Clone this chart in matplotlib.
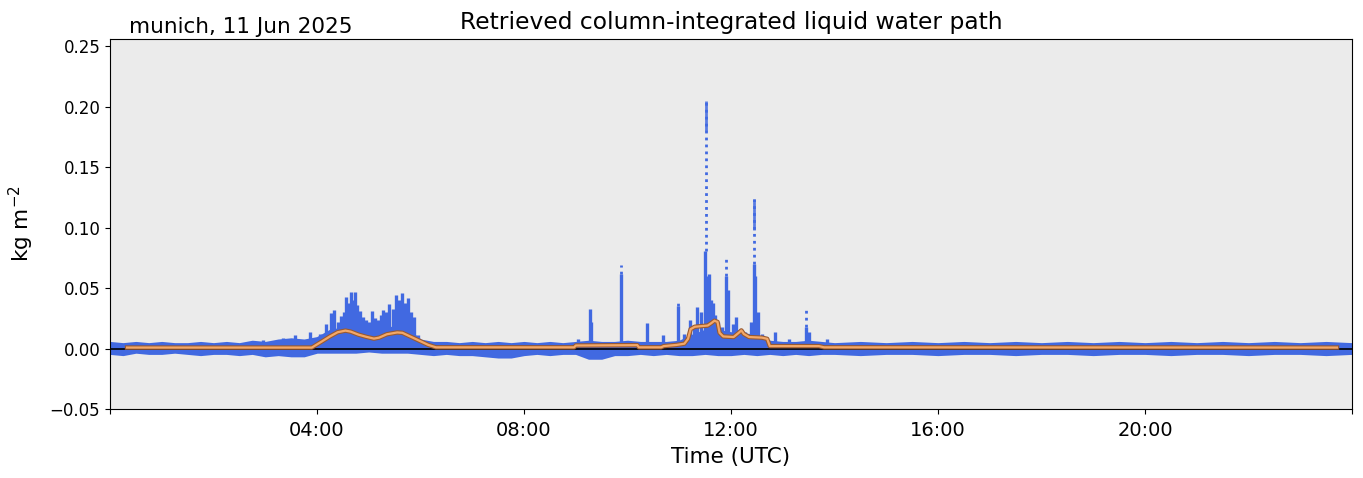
import matplotlib
matplotlib.use('Agg')
import matplotlib.pyplot as plt
import matplotlib.patheffects as pe

# time in hours UTC
band_t = [0.0, 0.25, 0.5, 0.75, 1.0, 1.25, 1.5, 1.75, 2.0, 2.25, 2.5, 2.75, 3.0, 3.25,
          3.5, 3.75, 4.0, 4.25, 4.5, 4.75, 5.0, 5.25, 5.5, 5.75, 6.0, 6.25, 6.5, 6.75,
          7.0, 7.25, 7.5, 7.75, 8.0, 8.25, 8.5, 8.75, 9.0, 9.25, 9.5, 9.75, 10.0, 10.25,
          10.5, 10.75, 11.0, 11.25, 11.5, 11.75, 12.0, 12.25, 12.5, 12.75, 13.0, 13.25,
          13.5, 13.75, 14.0, 14.5, 15.0, 15.5, 16.0, 16.5, 17.0, 17.5, 18.0, 18.5, 19.0,
          19.5, 20.0, 20.5, 21.0, 21.5, 22.0, 22.5, 23.0, 23.5, 24.0]
band_hi = [0.005, 0.004, 0.005, 0.004, 0.005, 0.004, 0.004, 0.005, 0.004, 0.005, 0.004,
           0.006, 0.005, 0.007, 0.008, 0.007, 0.009, 0.015, 0.017, 0.018, 0.014, 0.016,
           0.018, 0.016, 0.007, 0.005, 0.005, 0.004, 0.005, 0.004, 0.005, 0.004, 0.005,
           0.004, 0.005, 0.004, 0.005, 0.006, 0.005, 0.005, 0.006, 0.005, 0.005, 0.005,
           0.006, 0.011, 0.015, 0.015, 0.013, 0.012, 0.011, 0.006, 0.005, 0.005, 0.006,
           0.005, 0.004, 0.005, 0.004, 0.005, 0.004, 0.005, 0.004, 0.005, 0.004, 0.005,
           0.004, 0.005, 0.004, 0.005, 0.004, 0.005, 0.004, 0.005, 0.004, 0.005, 0.004]
band_lo = [-0.004, -0.005, -0.003, -0.004, -0.004, -0.003, -0.004, -0.005, -0.004, -0.004,
           -0.005, -0.004, -0.006, -0.005, -0.006, -0.006, -0.003, -0.003, -0.003, -0.003,
           -0.002, -0.003, -0.003, -0.003, -0.004, -0.005, -0.004, -0.005, -0.005, -0.006,
           -0.007, -0.007, -0.005, -0.004, -0.005, -0.004, -0.004, -0.008, -0.008, -0.005,
           -0.005, -0.004, -0.005, -0.004, -0.005, -0.005, -0.004, -0.005, -0.005, -0.004,
           -0.005, -0.004, -0.005, -0.004, -0.005, -0.004, -0.004, -0.005, -0.004, -0.004,
           -0.005, -0.004, -0.004, -0.005, -0.004, -0.004, -0.005, -0.004, -0.004, -0.005,
           -0.004, -0.004, -0.005, -0.004, -0.004, -0.005, -0.004]

# dense cloud columns
col_t = [2.95, 3.35, 3.57, 3.86, 4.05, 4.18, 4.28, 4.33, 4.40, 4.47, 4.52, 4.57, 4.61,
         4.65, 4.69, 4.73, 4.78, 4.84, 4.89, 4.94, 5.00, 5.07, 5.12, 5.18, 5.23, 5.28,
         5.34, 5.40, 5.46, 5.52, 5.58, 5.64, 5.70, 5.75, 5.81, 5.87, 5.95, 9.05, 9.27,
         9.30, 9.87, 10.38, 10.68, 10.98, 11.10, 11.20, 11.28, 11.35, 11.43, 11.50, 11.54,
         11.58, 11.62, 11.66, 11.70, 11.75, 11.82, 11.90, 11.95, 12.03, 12.10, 12.16,
         12.20, 12.28, 12.38, 12.44, 12.47, 12.52, 12.60, 12.85, 13.12, 13.45, 13.50,
         13.85]
col_top = [0.007, 0.009, 0.011, 0.014, 0.012, 0.020, 0.029, 0.032, 0.022, 0.027, 0.030,
           0.043, 0.038, 0.047, 0.040, 0.047, 0.036, 0.031, 0.026, 0.024, 0.022, 0.031,
           0.025, 0.024, 0.028, 0.032, 0.030, 0.037, 0.033, 0.044, 0.040, 0.046, 0.038,
           0.042, 0.030, 0.026, 0.011, 0.008, 0.033, 0.022, 0.062, 0.021, 0.011, 0.035,
           0.012, 0.024, 0.018, 0.034, 0.030, 0.081, 0.060, 0.062, 0.040, 0.038, 0.028,
           0.022, 0.018, 0.060, 0.048, 0.020, 0.026, 0.015, 0.016, 0.014, 0.022, 0.070,
           0.060, 0.030, 0.012, 0.014, 0.008, 0.018, 0.014, 0.008]

# sparse points above the dense columns
tail_t = [9.87, 10.98, 11.52, 11.90, 12.45, 13.45]
tail_lo = [0.062, 0.035, 0.081, 0.060, 0.070, 0.018]
tail_hi = [0.069, 0.040, 0.205, 0.075, 0.124, 0.032]

# denser clusters near the spike tops
cap_t = [11.52, 12.45]
cap_lo = [0.180, 0.098]
cap_hi = [0.205, 0.124]

# smoothed LWP
smooth_t = [0.33, 3.9, 4.1, 4.25, 4.4, 4.55, 4.65, 4.8, 4.95, 5.1, 5.2, 5.35, 5.55, 5.65,
            5.8, 6.0, 6.15, 6.3, 8.97, 9.0, 10.19, 10.22, 10.65, 10.7, 10.95, 11.1, 11.17,
            11.22, 11.3, 11.55, 11.62, 11.68, 11.74, 11.78, 11.85, 12.05, 12.15, 12.2,
            12.25, 12.35, 12.6, 12.7, 12.75, 13.7, 13.8, 23.71]
smooth_v = [0.0008, 0.0008, 0.006, 0.010, 0.0135, 0.0148, 0.014, 0.0115, 0.0097, 0.0082,
            0.009, 0.0118, 0.0133, 0.013, 0.010, 0.006, 0.003, 0.001, 0.001, 0.0025,
            0.0028, 0.001, 0.001, 0.002, 0.003, 0.004, 0.008, 0.016, 0.018, 0.019, 0.021,
            0.023, 0.022, 0.013, 0.010, 0.0095, 0.013, 0.015, 0.012, 0.0095, 0.009, 0.008,
            0.002, 0.002, 0.001, 0.0008]

blue = 'royalblue'

fig = plt.figure(figsize=(13.63, 4.78), dpi=100)
ax = fig.add_axes([0.0807, 0.1444, 0.9112, 0.774])
ax.set_facecolor('#ebebeb')

ax.fill_between(band_t, band_lo, band_hi, color=blue, lw=1.5, edgecolor=blue, zorder=2)
ax.vlines(col_t, 0, col_top, color=blue, lw=2.4, zorder=2)
ax.vlines(tail_t, tail_lo, tail_hi, color=blue, lw=2.0, linestyles=(0, (1, 1.5)), zorder=2)
ax.vlines(cap_t, cap_lo, cap_hi, color=blue, lw=2.0, alpha=0.85, zorder=2)

ax.axhline(0, color='k', lw=1.2, zorder=3)
ax.plot(smooth_t, smooth_v, color='#f3a868', lw=1.6, zorder=4,
        path_effects=[pe.Stroke(linewidth=3.2, foreground='#9a5a30'), pe.Normal()])

ax.set_xlim(0, 24)
ax.set_ylim(-0.05, 0.256)
ax.set_xticks([0, 4, 8, 12, 16, 20, 24])
ax.set_xticklabels(['', '04:00', '08:00', '12:00', '16:00', '20:00', ''], fontsize=14)
ax.tick_params(axis='x', pad=5)
ax.set_yticks([-0.05, 0, 0.05, 0.10, 0.15, 0.20, 0.25])
ax.set_yticklabels(['\u22120.05', '0.00', '0.05', '0.10', '0.15', '0.20', '0.25'], fontsize=12)

ax.set_xlabel('Time (UTC)', fontsize=15.5, labelpad=5)
ax.set_ylabel('kg m$^{-2}$', fontsize=15.5, labelpad=10)
ax.set_title('Retrieved column-integrated liquid water path', fontsize=16.8, pad=7)
ax.text(0.015, 1.005, 'munich, 11 Jun 2025', transform=ax.transAxes, fontsize=15.5,
        ha='left', va='bottom')

fig.savefig('out.png', dpi=100)
